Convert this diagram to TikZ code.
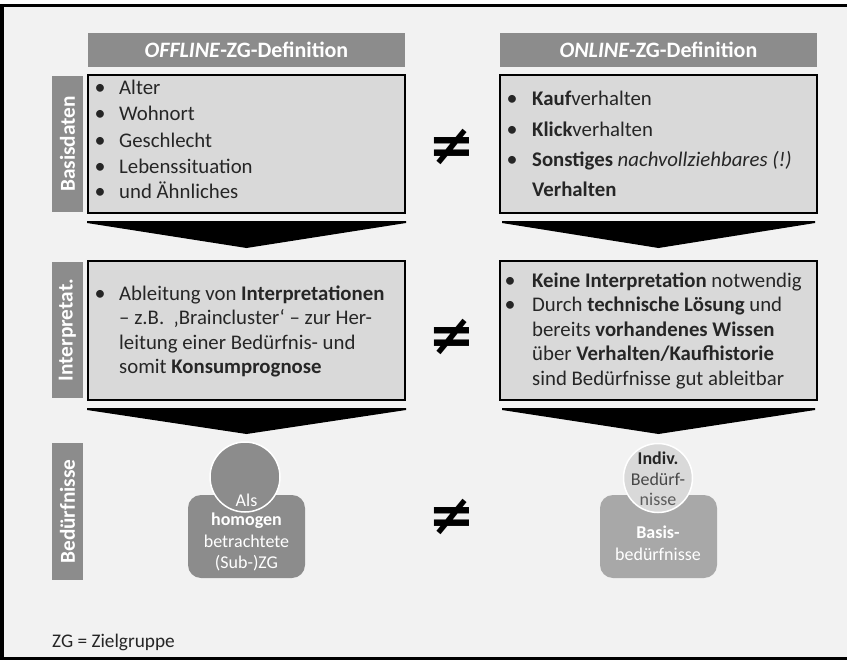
\documentclass[tikz,border=0pt]{standalone}
\usepackage{fontspec}
\setmainfont{Carlito}
\newfontfamily\symfont{DejaVu Sans}
\usetikzlibrary{calc}
\definecolor{slidebg}{HTML}{F2F2F2}
\definecolor{hdrgray}{HTML}{8C8C8C}
\definecolor{boxgray}{HTML}{D9D9D9}
\definecolor{midgray}{HTML}{A8A8A8}
\definecolor{ink}{HTML}{262626}
\begin{document}
\begin{tikzpicture}[x=1pt,y=-1pt,
  hdr/.style={fill=hdrgray, text=white, font=\bfseries\fontsize{22}{26}\selectfont,
    minimum width=317, minimum height=34, inner sep=0},
  infobox/.style={draw=black, line width=2, fill=boxgray,
    minimum width=317, minimum height=138, inner sep=0},
  sidelbl/.style={fill=hdrgray, text=white, font=\bfseries\fontsize{21.3}{25}\selectfont,
    rotate=90, minimum width=136, minimum height=31, inner sep=0},
  itemtxt/.style={anchor=base west, inner sep=0, text=ink, font=\fontsize{20.8}{24}\selectfont},
  bul/.style={anchor=base, inner sep=0, text=ink, font=\fontsize{22}{24}\selectfont},
  neq/.style={inner sep=0, text=black, font=\symfont\bfseries\fontsize{56}{56}\selectfont},
  chev/.style={fill=black},
  persontxt/.style={anchor=base, inner sep=0, font=\fontsize{18}{21}\selectfont},
]
\useasboundingbox (0,0) rectangle (847,661);
\fill[white] (0,0) rectangle (847,661);
\draw[line width=3.5, fill=slidebg] (2,5.5) rectangle (851,658.5);

% column headers
\node[hdr] (hoff) at (246.5,50) {\textit{OFFLINE}-ZG-Definition};
\node[hdr] (hon)  at (658.5,50) {\textit{ONLINE}-ZG-Definition};

% row labels
\node[sidelbl] (sbasis)  at (67.5,144)   {Basisdaten};
\node[sidelbl] (sinterp) at (67.5,330)   {Interpretat.};
\node[sidelbl, minimum width=137] (sbed) at (67.5,511.5) {Bedürfnisse};

% row 1: basic data
\node[infobox] (boff) at (246.5,144) {};
\node[infobox] (bon)  at (658.5,144) {};

\foreach \y/\t [count=\i] in {95/Alter, 121/Wohnort, 147/Geschlecht,
    173/Lebenssituation, 198/und Ähnliches}{
  \node[bul] (boffb\i) at (100,\y) {\textbullet};
  \node[itemtxt] (bofft\i) at (119,\y) {\t};
}

\node[bul] (bonb1) at (512,106) {\textbullet};
\node[itemtxt] (bont1) at (532,106) {\textbf{Kauf}verhalten};
\node[bul] (bonb2) at (512,136) {\textbullet};
\node[itemtxt] (bont2) at (532,136) {\textbf{Klick}verhalten};
\node[bul] (bonb3) at (512,166) {\textbullet};
\node[itemtxt] (bont3) at (532,166) {\textbf{Sonstiges} \textit{nachvollziehbares (!)}};
\node[itemtxt] (bont4) at (532,196) {\textbf{Verhalten}};

\node[neq] (ne1) at (452,147) {≠};

% chevrons between rows
\fill[chev] ($(boff.south west)+(0,7)$) -- ($(boff.south east)+(0,7)$) -- ++(0,2)
  -- ($(boff.south)+(0,34)$) -- ($(boff.south west)+(0,9)$) -- cycle;
\fill[chev] ($(bon.south west)+(3,7)$) -- ($(bon.south east)+(-3,7)$) -- ++(0,2)
  -- ($(bon.south)+(0,34)$) -- ($(bon.south west)+(3,9)$) -- cycle;

% row 2: interpretation
\node[infobox, minimum height=139] (ioff) at (246.5,330.5) {};
\node[infobox, minimum height=139] (ion)  at (658.5,330.5) {};

\node[bul] (ioffb1) at (100,300) {\textbullet};
\node[itemtxt] (iofft1) at (119,300) {Ableitung von \textbf{Interpretationen}};
\node[itemtxt] (iofft2) at (119,324.5) {– z.B.\ \ ‚Braincluster‘ – zur Her-};
\node[itemtxt] (iofft3) at (119,349) {leitung einer Bedürfnis- und};
\node[itemtxt] (iofft4) at (119,373) {somit \textbf{Konsumprognose}};

\node[bul] (ionb1) at (510,287) {\textbullet};
\node[itemtxt] (iont1) at (532,287) {\textbf{Keine Interpretation} notwendig};
\node[bul] (ionb2) at (510,311) {\textbullet};
\node[itemtxt] (iont2) at (532,311) {Durch \textbf{technische Lösung} und};
\node[itemtxt] (iont3) at (532,336) {bereits \textbf{vorhandenes Wissen}};
\node[itemtxt] (iont4) at (532,360) {über \textbf{Verhalten/Kaufhistorie}};
\node[itemtxt] (iont5) at (532,385) {sind Bedürfnisse gut ableitbar};

\node[neq] (ne2) at (452,337) {≠};

\fill[chev] ($(ioff.south west)+(0,7)$) -- ($(ioff.south east)+(0,7)$) -- ++(0,2)
  -- ($(ioff.south)+(0,33)$) -- ($(ioff.south west)+(0,9)$) -- cycle;
\fill[chev] ($(ion.south west)+(3,7)$) -- ($(ion.south east)+(-3,7)$) -- ++(0,2)
  -- ($(ion.south)+(0,33)$) -- ($(ion.south west)+(3,9)$) -- cycle;

% row 3: needs
\node[fill=hdrgray, rounded corners=13, minimum width=117, minimum height=83, inner sep=0]
  (poff) at (246.5,536.5) {};
\node[circle, fill=hdrgray, draw=white, line width=1.5, minimum size=70, inner sep=0]
  (coff) at (245,477) {};
\node[persontxt, text=white] (poff1) at (246.5,506) {Als};
\node[persontxt, text=white] (poff2) at (246.5,525) {\textbf{homogen}};
\node[persontxt, text=white] (poff3) at (246.5,547) {betrachtete};
\node[persontxt, text=white] (poff4) at (246.5,568) {(Sub-)ZG};

\node[fill=midgray, rounded corners=13, minimum width=117, minimum height=83, inner sep=0]
  (pon) at (658.5,536.5) {};
\node[circle, fill=boxgray, draw=white, line width=1.5, minimum size=69, inner sep=0]
  (con) at (658,478) {};
\node[persontxt, text=ink] (con1) at (658,464) {\textbf{Indiv.}};
\node[persontxt, text=ink!85] (con2) at (658,485) {Bedürf-};
\node[persontxt, text=ink!75] (con3) at (658,505) {nisse};
\node[persontxt, text=white] (pon1) at (658,538) {\textbf{Basis-}};
\node[persontxt, text=white] (pon2) at (658,560) {bedürfnisse};

\node[neq] (ne3) at (452,517) {≠};

% footnote
\node[anchor=base west, inner sep=0, text=ink, font=\fontsize{19.3}{22}\selectfont]
  (legend) at (52,647) {ZG = Zielgruppe};
\end{tikzpicture}
\end{document}
